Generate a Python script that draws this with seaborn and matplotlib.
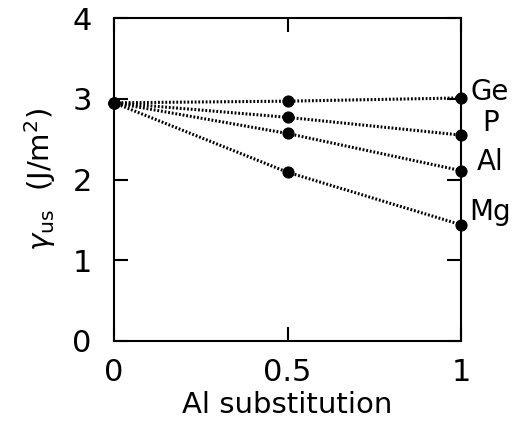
import matplotlib
matplotlib.use("Agg")
import matplotlib.pyplot as plt
import seaborn as sns
import pandas as pd

x_vals = [0, 0.5, 1]
ge = [2.95, 2.97, 3.01]
p = [2.95, 2.77, 2.55]
al = [2.95, 2.57, 2.11]
mg = [2.95, 2.09, 1.44]
labels = ["Ge", "P", "Al", "Mg"]
label_dy = [4.5, 8.5, 6, 9.5]  # label offsets in points (upward)

sns.set_style("ticks")
plt.rcParams['font.family'] = ['DejaVu Sans']
plt.rcParams['mathtext.fontset'] = 'dejavusans'

rows = []
for name, ys in zip(labels, [ge, p, al, mg]):
    for xv, yv in zip(x_vals, ys):
        rows.append({"x": xv, "y": yv, "el": name})
df = pd.DataFrame(rows)

fig = plt.figure(figsize=(5.16, 4.30), dpi=100)
ax = fig.add_axes([114/516, 1 - 341/430, (461-114)/516, (341-18)/430])

for name, dy in zip(labels, label_dy):
    d = df[df.el == name]
    sns.lineplot(data=d, x="x", y="y", ax=ax, color="black", linestyle=(0, (0.6, 0.6)),
                 linewidth=2.2, marker="o", markersize=8, markeredgecolor="black",
                 legend=False, errorbar=None, clip_on=False)
    ax.annotate(name, xy=(1, d["y"].iloc[-1]), xytext=(21, dy), textcoords="offset points",
                fontsize=20, color="black", va="center", ha="center", annotation_clip=False)

ax.set_xlim(0, 1)
ax.set_ylim(0, 4)
ax.set_xticks([0, 0.5, 1])
ax.set_xticklabels(["0", "0.5", "1"])
ax.set_yticks([0, 1, 2, 3, 4])
ax.tick_params(direction="in", length=10, width=1.5, labelsize=22, top=True, right=True,
               colors="black")
ax.tick_params(axis="y", pad=16)
ax.tick_params(axis="x", pad=12)
for s in ax.spines.values():
    s.set_linewidth(1.5)
    s.set_color("black")
ax.set_xlabel("Al substitution", fontsize=21, color="black", labelpad=3)
ax.set_ylabel(r"$\gamma_{\rm us}$  (J/m$^2$)", fontsize=21, color="black", labelpad=10)

fig.savefig("out.png", dpi=100)
